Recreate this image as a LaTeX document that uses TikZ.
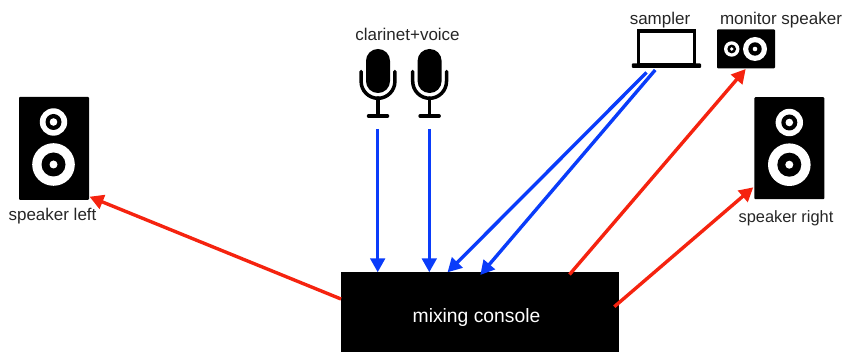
\documentclass[tikz,border=0pt]{standalone}
\usepackage{fontspec}
\setmainfont{Liberation Sans}
\usetikzlibrary{arrows.meta}
\definecolor{bluearrow}{RGB}{10,60,250}
\definecolor{redarrow}{RGB}{245,35,15}
\tikzset{
  x=1pt,y=-1pt,
  boxblack/.style={fill=black,draw=none,inner sep=0pt,rounded corners=1pt},
  lbl/.style={font=\fontsize{17}{19}\selectfont,text=black!85,inner sep=0pt,anchor=base},
  sig/.style={line width=3.4pt,-{Triangle[length=14pt,width=14.5pt]},shorten >=0pt},
  inblue/.style={sig,draw=bluearrow,color=bluearrow},
  outred/.style={sig,draw=redarrow,color=redarrow},
  micline/.style={draw=black,line width=3.5pt,line cap=round},
  lapline/.style={draw=black,line width=3.3pt},
}
\newcommand{\conecircle}[5]{%
  \fill[white] (#1,#2) circle (#3);
  \fill[black] (#1,#2) circle (#4);
  \fill[white] (#1,#2) circle (#5);
}
\newcommand{\micicon}[1]{%
  \fill[black,rounded corners=11.9pt] (#1-12,49) rectangle (#1+12,93);
  \draw[micline] (#1-16.9,71.5) -- (#1-16.9,81.4) arc[start angle=180,end angle=0,radius=16.9] -- (#1+16.9,71.5);
  \draw[micline] (#1,98) -- (#1,116);
  \draw[micline] (#1-9.5,116) -- (#1+9.5,116);
}
\begin{document}
\begin{tikzpicture}
\useasboundingbox (0,0) rectangle (843,352);

% console
\node[fill=black,inner sep=0pt,minimum width=278pt,minimum height=80pt] (console) at (480,312) {};
\node[text=white,font=\fontsize{19.3}{22}\selectfont,inner sep=0pt,anchor=base] (consolelabel) at (476.5,322.7) {mixing console};

% speakers
\node[boxblack,minimum width=70pt,minimum height=103pt] (spkL) at (54,148.5) {};
\conecircle{53.5}{122}{13.7}{8}{3.8}
\conecircle{53.5}{164.5}{21.3}{12}{4}
\node[lbl] (spkLlabel) at (52.5,221) {speaker left};

\node[boxblack,minimum width=70pt,minimum height=102pt] (spkR) at (789.3,148.2) {};
\conecircle{789.3}{122.5}{13.7}{8}{3.8}
\conecircle{789.3}{164.7}{21.3}{12}{4}
\node[lbl,font=\fontsize{16.4}{19}\selectfont] (spkRlabel) at (786,222.5) {speaker right};

\node[boxblack,minimum width=58pt,minimum height=39pt] (monitor) at (746,48.8) {};
\conecircle{731.7}{49}{7.7}{4.4}{1.9}
\conecircle{755}{49}{12}{6.7}{2.3}
\node[lbl] (monitorlabel) at (781,25) {monitor speaker};

% laptop
\node[lapline,fill=white,inner sep=0pt,minimum width=56pt,minimum height=34pt] (laptop) at (666.4,48) {};
\fill[black,rounded corners=0.8pt] (631.8,63.5) rectangle (701,67.8);
\node[lbl] (samplerlabel) at (660,25) {sampler};

% microphones
\micicon{378}
\micicon{429.6}
\node[lbl] (miclabel) at (407.5,41) {clarinet+voice};

% connector ends
\coordinate (micAend) at (377.7,129);
\coordinate (micAtip) at (377.7,272.3);
\coordinate (micBend) at (429.3,129);
\coordinate (micBtip) at (429.3,272.3);
\coordinate (lapA) at (646.5,72.5);
\coordinate (lapAtip) at (447.5,272.3);
\coordinate (lapB) at (655.2,70);
\coordinate (lapBtip) at (480.3,275);
\coordinate (outL) at (341,299);
\coordinate (spkLtip) at (89.5,196.7);
\coordinate (outM) at (569.5,274.5);
\coordinate (monitortip) at (745.7,69);
\coordinate (outR) at (614.3,306.7);
\coordinate (spkRtip) at (753.3,187.3);

\draw[inblue] (micAend) -- (micAtip);
\draw[inblue] (micBend) -- (micBtip);
\draw[inblue] (lapA) -- (lapAtip);
\draw[inblue] (lapB) -- (lapBtip);
\draw[outred] (outL) -- (spkLtip);
\draw[outred] (outM) -- (monitortip);
\draw[outred] (outR) -- (spkRtip);
\end{tikzpicture}
\end{document}
